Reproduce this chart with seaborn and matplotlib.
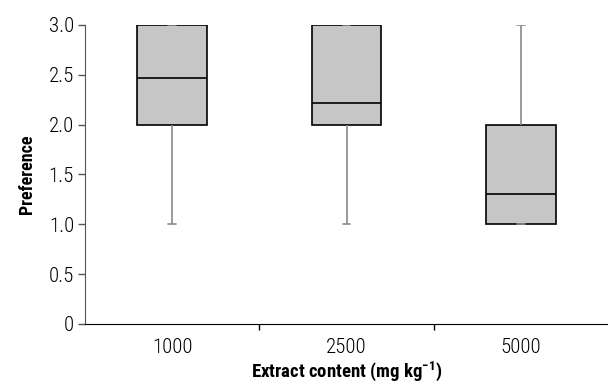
import pandas as pd
import numpy as np
import matplotlib
matplotlib.use("Agg")
import matplotlib.pyplot as plt
import seaborn as sns

# five-number style samples (min, Q1, median, Q3, max)
categories = ["1000", "2500", "5000"]
pref_1000 = [1.0, 2.0, 2.47, 3.0, 3.0]
pref_2500 = [1.0, 2.0, 2.22, 3.0, 3.0]
pref_5000 = [1.0, 1.0, 1.30, 2.0, 3.0]
yticks = [0, 0.5, 1.0, 1.5, 2.0, 2.5, 3.0]
ytick_labels = ["0", "0.5", "1.0", "1.5", "2.0", "2.5", "3.0"]

df = pd.DataFrame({
    "content": np.repeat(categories, 5),
    "pref": pref_1000 + pref_2500 + pref_5000,
})

sns.set_style("white")
plt.rcParams["font.family"] = ["Roboto Condensed", "DejaVu Sans"]
plt.rcParams["mathtext.fontset"] = "custom"
plt.rcParams["mathtext.rm"] = "Roboto Condensed"
plt.rcParams["mathtext.bf"] = "Roboto Condensed:bold"
plt.rcParams["text.color"] = "black"
plt.rcParams["axes.labelcolor"] = "black"
plt.rcParams["xtick.color"] = "black"
plt.rcParams["ytick.color"] = "black"

fig = plt.figure(figsize=(6.08, 3.88), dpi=100)
ax = fig.add_axes([0.14, 0.165, 0.86, 0.7706])

sns.boxplot(data=df, x="content", y="pref", order=categories, ax=ax,
            width=0.4, color="#c6c6c6", linecolor="black", linewidth=1.2,
            whis=1.5, showfliers=False, capwidths=0.045,
            boxprops={"facecolor": "#c6c6c6", "edgecolor": "black"},
            medianprops={"color": "black", "linewidth": 1.2},
            whiskerprops={"color": "#8a8a8a", "linewidth": 1.2},
            capprops={"color": "#8a8a8a", "linewidth": 1.2})

ax.set_xlim(-0.5, 2.5)
ax.set_ylim(0, 3.0)
ax.set_yticks(yticks)
ax.set_yticklabels(ytick_labels)
ax.set_xticks([0.5, 1.5], minor=True)
ax.tick_params(axis="x", which="major", length=0, pad=10, labelsize=15)
ax.tick_params(axis="x", which="minor", length=4, width=1, color="black", direction="out")
ax.tick_params(axis="y", length=5, width=1, color="#555555", direction="out", labelsize=15, pad=3)
ax.tick_params(left=True, bottom=True, which="both")
for lab in ax.get_xticklabels() + ax.get_yticklabels():
    lab.set_fontweight(300)

for s in ["top", "right"]:
    ax.spines[s].set_visible(False)
ax.spines["left"].set_color("#555555")
ax.spines["bottom"].set_color("black")

ax.set_xlabel(r"Extract content (mg kg$^{\mathbf{-1}}$)", fontsize=13.5, fontweight="bold", labelpad=2)
ax.set_ylabel("Preference", fontsize=13, fontweight="bold", labelpad=9)

fig.savefig("out.png", dpi=100)
